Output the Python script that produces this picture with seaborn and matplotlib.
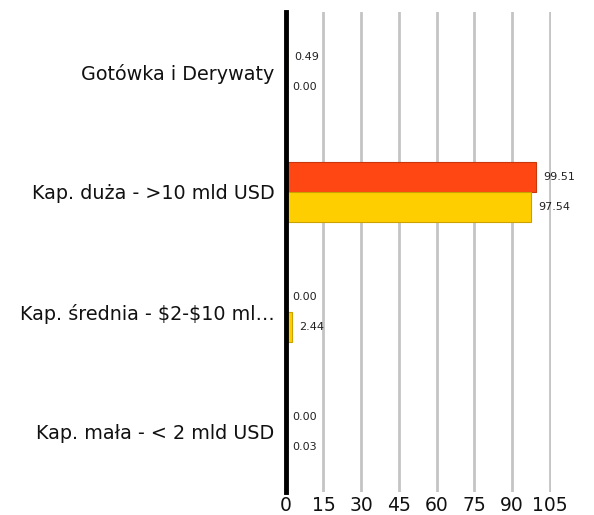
import pandas as pd
import seaborn as sns
from matplotlib import pyplot as plt

categories = ['Gotówka i Derywaty', 'Kap. duża - >10 mld USD',
              'Kap. średnia - \\$2-\\$10 ml…', 'Kap. mała - < 2 mld USD']
series_names = ['Fundusz', 'Benchmark']
fund_values = [0.49, 99.51, 0.00, 0.00]
bench_values = [0.00, 97.54, 2.44, 0.03]
x_ticks = [0, 15, 30, 45, 60, 75, 90, 105]
colors = ['#FF4713', '#FFCE00']
edge_colors = ['#C8370C', '#C9A200']

data = pd.DataFrame({
    'Kategoria': categories * 2,
    'Wartość': fund_values + bench_values,
    'Seria': [series_names[0]] * 4 + [series_names[1]] * 4,
})

sns.set_theme(style='white')
plt.rcParams['font.family'] = ['DejaVu Sans']

fig = plt.figure(figsize=(5.94, 5.15), dpi=100)
ax = fig.add_axes([0.481, 0.045, 0.447, 0.932])

sns.barplot(data=data, y='Kategoria', x='Wartość', hue='Seria', orient='h',
            palette=colors, width=0.5, ax=ax, legend=False, saturation=1)

for container, ec in zip(ax.containers, edge_colors):
    for bar in container:
        bar.set_edgecolor(ec)
        bar.set_linewidth(0.8)
    ax.bar_label(container, fmt='%.2f', padding=5, fontsize=8, color='#222222')

ax.set_xlim(0, 105.5)
ax.set_xticks(x_ticks)
ax.xaxis.grid(True, color='#C4C4C4', linewidth=2)
ax.set_axisbelow(True)
ax.tick_params(axis='x', labelsize=13.5, length=0, pad=3, colors='#111111')
ax.tick_params(axis='y', labelsize=13.8, length=0, pad=8, colors='#111111')
ax.set_xlabel('')
ax.set_ylabel('')
for side in ['top', 'right', 'bottom']:
    ax.spines[side].set_visible(False)
ax.spines['left'].set_color('black')
ax.spines['left'].set_linewidth(3.5)
ax.spines['left'].set_zorder(5)

plt.savefig('out.png', dpi=100)
